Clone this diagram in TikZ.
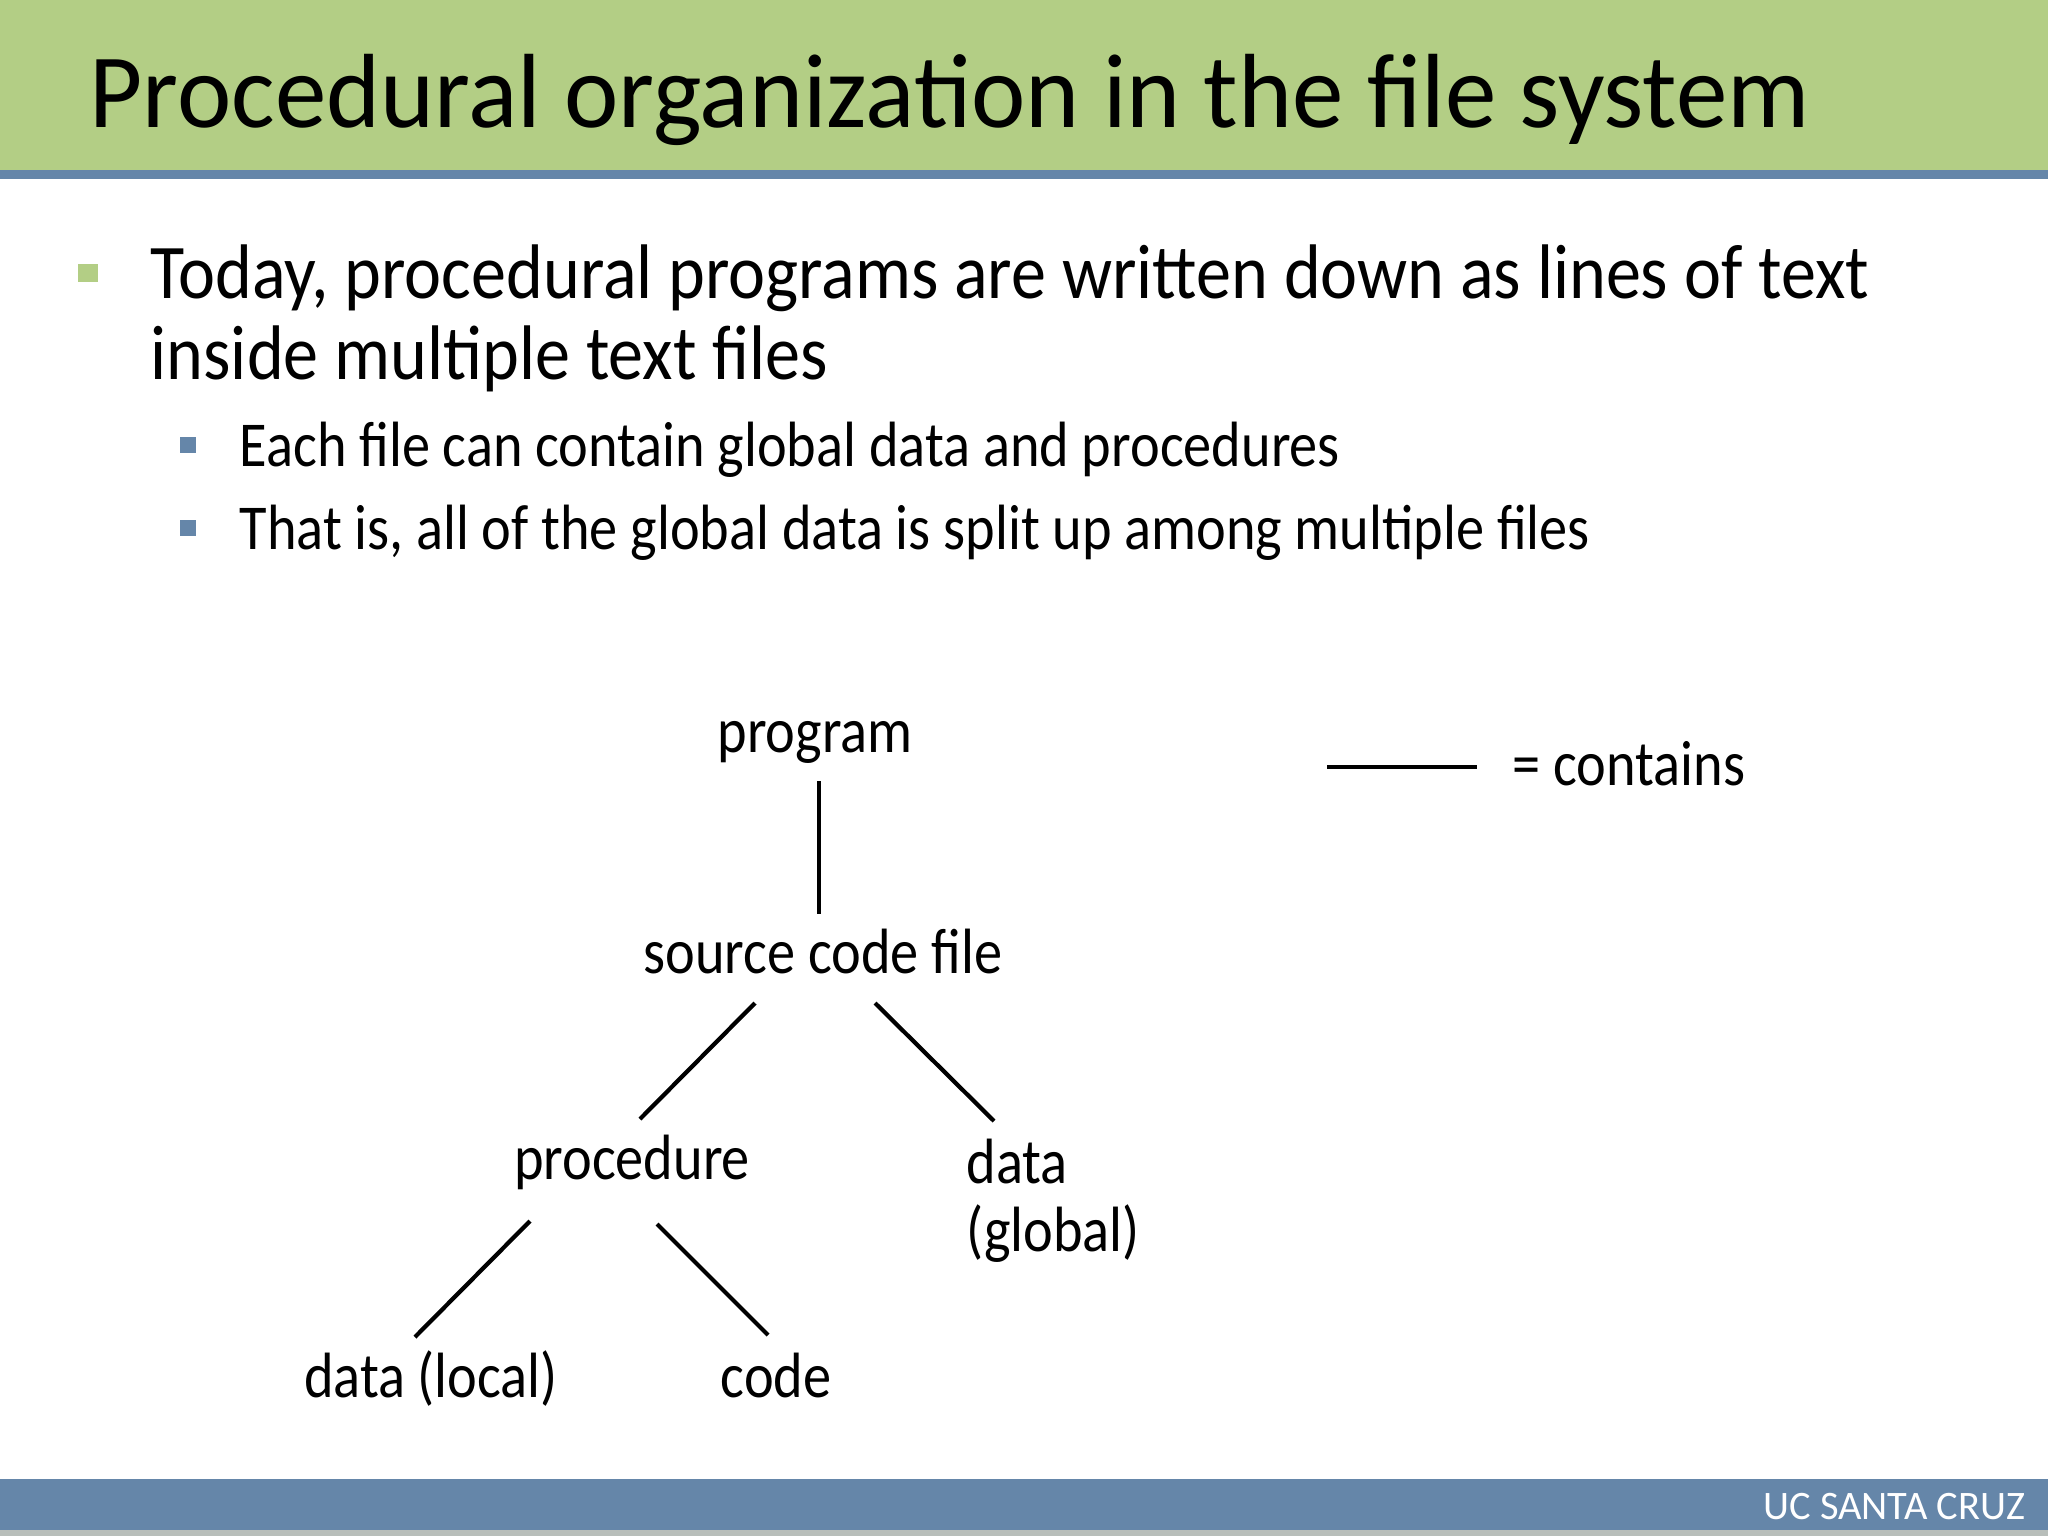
\documentclass[tikz,border=0pt]{standalone}
\usepackage{fontspec}
\setmainfont{Carlito}
\definecolor{titlegreen}{RGB}{179,206,133}
\definecolor{slateblue}{RGB}{101,134,169}
\definecolor{footgrey}{RGB}{184,190,186}
\newcommand{\titlesize}{\fontsize{30}{36}\selectfont\addfontfeatures{FakeStretch=0.976}}
\newcommand{\bulsize}{\fontsize{22}{26}\selectfont\addfontfeatures{FakeStretch=0.906}}
\newcommand{\subsize}{\fontsize{18.2}{19.5}\selectfont\addfontfeatures{FakeStretch=0.88}}

\begin{document}
\begin{tikzpicture}[
  x=0.01cm, y=-0.01cm,
  txt/.style={inner sep=0, anchor=base west},
  part/.style={inner sep=0, anchor=base, font=\subsize},
]
  \useasboundingbox (0,0) rectangle (2048,1536);
  % title bar
  \fill[titlegreen] (0,0) rectangle (2048,170);
  \fill[slateblue] (0,170) rectangle (2048,179);
  \node[txt, font=\titlesize] (title) at (89,127) {Procedural organization in the file system};

  % bullets
  \fill[titlegreen] (78,264) rectangle (98,282);
  \node[txt, font=\bulsize] (bul1a) at (150,298) {Today, procedural programs are written down as lines of text};
  \node[txt, font=\bulsize] (bul1b) at (150,379) {inside multiple text files};
  \fill[slateblue] (180,437) rectangle (196,453);
  \node[txt, font=\subsize] (sub1) at (239,466) {Each file can contain global data and procedures};
  \fill[slateblue] (180,520) rectangle (196,536);
  \node[txt, font=\subsize] (sub2) at (239,549) {That is, all of the global data is split up among multiple files};

  % tree
  \node[part] (prog) at (815,752) {program};
  \node[part] (src) at (823,973) {source code file};
  \node[part] (proc) at (632,1179) {procedure};
  \node[inner sep=0, anchor=north west, align=left, font=\subsize] (glob) at (966,1138) {data\\(global)};
  \node[part] (loc) at (431,1397) {data (local)};
  \node[part] (code) at (776,1397) {code};

  \draw[line width=1.2pt] ([shift={(4,29)}]prog.base) -- ([shift={(-4,-59)}]src.base);
  \draw[line width=1.2pt] ([shift={(-68,30)}]src.base) -- ([shift={(8,-60)}]proc.base);
  \draw[line width=1.2pt] ([shift={(52,30)}]src.base) -- ([shift={(28,-17)}]glob.north west);
  \draw[line width=1.2pt] ([shift={(-102,42)}]proc.base) -- ([shift={(-16,-60)}]loc.base);
  \draw[line width=1.2pt] ([shift={(25,45)}]proc.base) -- ([shift={(-8,-62)}]code.base);

  % legend
  \node[txt, font=\subsize] (leg) at (1512,785) {= contains};
  \coordinate (legA) at (1327,767);
  \draw[line width=1.2pt] (legA) -- ([shift={(-35,-18)}]leg.base west);

  % footer
  \fill[slateblue] (0,1479) rectangle (2048,1530);
  \fill[footgrey] (0,1530) rectangle (2048,1536);
  \node[inner sep=0, anchor=base east, text=white, font=\fontsize{11.5}{14}\selectfont] (uc) at (2026,1519) {UC SANTA CRUZ};
\end{tikzpicture}
\end{document}
